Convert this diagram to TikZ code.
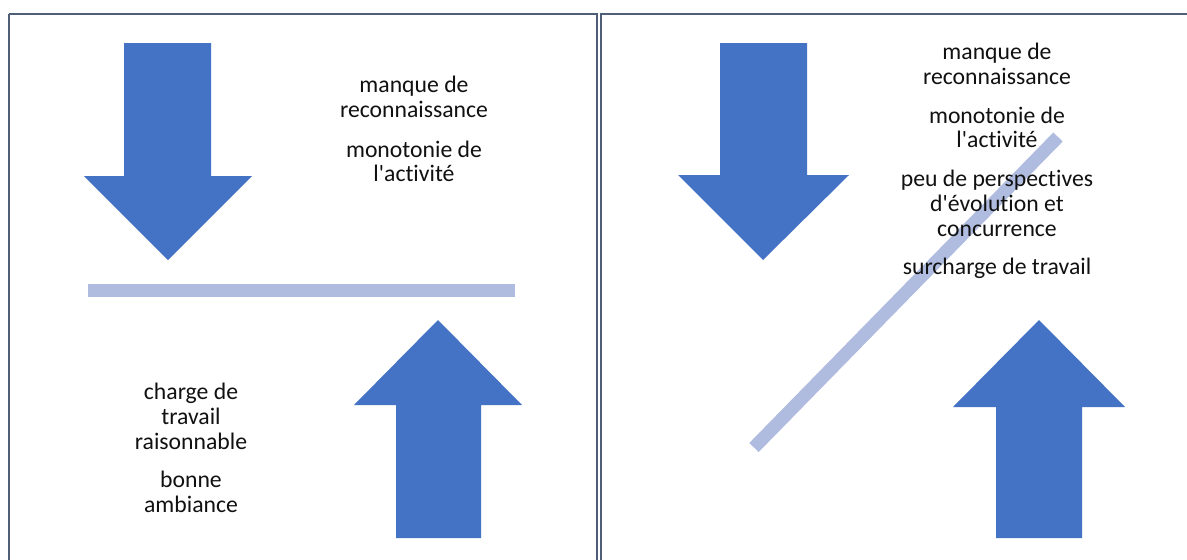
\documentclass[tikz,border=0pt]{standalone}
\usepackage{fontspec}
\setmainfont[Ligatures=NoCommon]{Carlito}
\definecolor{arrowblue}{HTML}{4472C4}
\definecolor{barblue}{HTML}{AFBCDF}
\definecolor{frame}{HTML}{4F5F78}
\definecolor{txt}{HTML}{111111}
\tikzset{
  blockarrow/.style={fill=arrowblue, draw=none},
  barline/.style={draw=barblue, line width=13pt, line cap=butt},
  panel/.style={draw=frame, line width=2pt},
  lbl/.style={font=\fontsize{23.7pt}{25pt}\selectfont, text=txt, inner sep=0pt, anchor=base}
}
\begin{document}
\begin{tikzpicture}[x=1pt,y=-1pt]
\useasboundingbox (0,0) rectangle (1187,560);
\clip (0,0) rectangle (1187,560);
\fill[white] (0,0) rectangle (1187,560);
% panels
\draw[panel] (9,14) -- (597,14) -- (597,580);
\draw[panel] (9,580) -- (9,14);
\draw[panel] (1200,14) -- (601,14) -- (601,580);
% left panel
\fill[blockarrow] (124,43) -- (211,43) -- (211,176) -- (252,176) -- (168,260) -- (84,176) -- (124,176) -- cycle;
\fill[blockarrow] (438,320) -- (522,405) -- (481,405) -- (481,538) -- (396,538) -- (396,405) -- (354,405) -- cycle;
\coordinate (hbarA) at (88,290.5);
\coordinate (hbarB) at (515,290.5);
\draw[barline] (hbarA) -- (hbarB);
\node[lbl] (l1) at (414,92) {manque de};
\node[lbl] (l2) at (414,117) {reconnaissance};
\node[lbl] (l3) at (414,157) {monotonie de};
\node[lbl] (l4) at (414,181) {l\textquotesingle activité};
\node[lbl] (l5) at (191,399) {charge de};
\node[lbl] (l6) at (191,424) {travail};
\node[lbl] (l7) at (191,449) {raisonnable};
\node[lbl] (l8) at (191,487) {bonne};
\node[lbl] (l9) at (191,512) {ambiance};
% right panel
\fill[blockarrow] (720,43) -- (807,43) -- (807,175) -- (849,175) -- (763,260) -- (678,175) -- (720,175) -- cycle;
\fill[blockarrow] (1039,320) -- (1125,407) -- (1082,407) -- (1082,538) -- (996,538) -- (996,407) -- (953,407) -- cycle;
\coordinate (dbarA) at (754,447.5);
\coordinate (dbarB) at (1058,137);
\draw[barline] (dbarA) -- (dbarB);
\node[lbl] (r1) at (997,59) {manque de};
\node[lbl] (r2) at (997,84) {reconnaissance};
\node[lbl] (r3) at (997,123) {monotonie de};
\node[lbl] (r4) at (997,147) {l\textquotesingle activité};
\node[lbl] (r5) at (997,186) {peu de perspectives};
\node[lbl] (r6) at (997,211) {d\textquotesingle évolution et};
\node[lbl] (r7) at (997,236) {concurrence};
\node[lbl] (r8) at (997,274) {surcharge de travail};
\end{tikzpicture}
\end{document}
